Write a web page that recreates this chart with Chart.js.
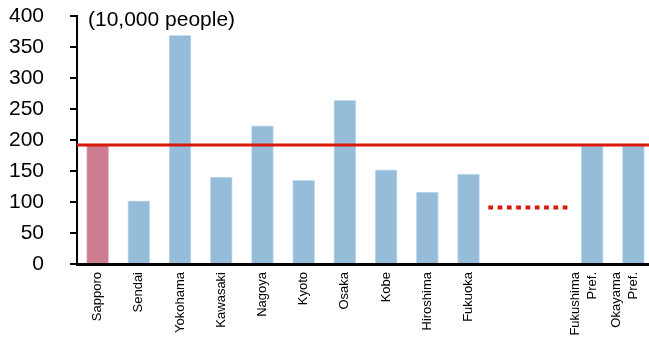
<!DOCTYPE html>
<html>
<head>
<meta charset="utf-8">
<script src="https://cdn.jsdelivr.net/npm/chart.js@4/dist/chart.umd.min.js"></script>
<style>
  html, body { margin: 0; padding: 0; background: #fff; overflow: hidden; }
  canvas { display: block; }
</style>
</head>
<body>
<canvas id="c" width="660" height="337"></canvas>
<script>
// Population by city (unit: 10,000 people); two blank slots separate the prefectures
const cities = ['Sapporo', 'Sendai', 'Yokohama', 'Kawasaki', 'Nagoya', 'Kyoto', 'Osaka',
  'Kobe', 'Hiroshima', 'Fukuoka', '', '', ['Fukushima', 'Pref.'], ['Okayama', 'Pref.']];
const population = [192, 102, 369, 140, 223, 135, 264, 152, 116, 145, null, null, 191, 191];
const highlightIndex = 0;            // Sapporo
const sapporoLevel = 192;            // solid red reference line
const breakLevel = 91;               // dotted red line in the gap
const breakSpan = [9.48, 11.43];     // category-index range of the dotted line
const yTicks = [0, 50, 100, 150, 200, 250, 300, 350, 400];
const unitLabel = '(10,000 people)';

const BLUE = '#95BCD9', BLUE_EDGE = '#C6DCED';
const PINK = '#CD7D8F', PINK_EDGE = '#E3B3BF';
const RED = '#D7180B';
const FONT = '"Liberation Sans", Arial, sans-serif';

const barFill = population.map((v, i) => i === highlightIndex ? PINK : BLUE);
const barEdge = population.map((v, i) => i === highlightIndex ? PINK_EDGE : BLUE_EDGE);
const lastIndex = cities.length - 1;

// Unit caption in the upper-left corner of the plot
const unitText = {
  id: 'unitText',
  afterDraw(chart) {
    const { ctx, chartArea } = chart;
    ctx.save();
    ctx.fillStyle = '#000';
    ctx.font = '21px ' + FONT;
    ctx.textBaseline = 'middle';
    ctx.textAlign = 'left';
    ctx.fillText(unitLabel, chartArea.left + 11, chartArea.top + 4);
    ctx.restore();
  }
};

// Center two-line rotated category labels on their tick
const centerMultiline = {
  id: 'centerMultiline',
  beforeDraw(chart) {
    const scale = chart.scales.x;
    if (!scale || typeof scale.getLabelItems !== 'function') return;
    const items = scale.getLabelItems();
    items.forEach(item => {
      if (Array.isArray(item.label) && item.label.length > 1) {
        const lh = item.font.lineHeight;
        item.textOffset = -(item.label.length - 1) * lh / 2;
      }
    });
  }
};

new Chart(document.getElementById('c'), {
  data: {
    labels: cities,
    datasets: [
      {
        type: 'line',
        xAxisID: 'x2',
        data: [{ x: -0.5, y: sapporoLevel }, { x: lastIndex + 0.5, y: sapporoLevel }],
        borderColor: RED,
        borderWidth: 3,
        pointRadius: 0,
        order: 0
      },
      {
        type: 'line',
        xAxisID: 'x2',
        data: [{ x: breakSpan[0], y: breakLevel }, { x: breakSpan[1], y: breakLevel }],
        borderColor: RED,
        borderWidth: 4,
        borderDash: [4.7, 4.6],
        borderCapStyle: 'butt',
        pointRadius: 0,
        order: 0
      },
      {
        type: 'bar',
        xAxisID: 'x',
        data: population,
        backgroundColor: barFill,
        borderColor: barEdge,
        borderWidth: { left: 1, right: 1, top: 1, bottom: 0 },
        barThickness: 22,
        grouped: false,
        order: 1
      }
    ]
  },
  options: {
    responsive: false,
    animation: false,
    layout: { padding: { top: 16, right: 6, left: 0, bottom: 0 } },
    plugins: { legend: { display: false }, tooltip: { enabled: false } },
    scales: {
      x: {
        type: 'category',
        offset: true,
        grid: { display: false, drawTicks: false },
        border: { display: true, color: '#000', width: 3 },
        ticks: {
          color: '#000',
          font: { family: FONT, size: 13, lineHeight: 1.3 },
          minRotation: 90,
          maxRotation: 90,
          autoSkip: false,
          padding: 8
        },
        afterFit(scale) {
          scale.height = 73;
          scale.paddingLeft = 0;
          scale.paddingRight = 0;
        }
      },
      x2: {
        type: 'linear',
        display: false,
        min: -0.5,
        max: lastIndex + 0.5
      },
      y: {
        min: 0,
        max: 400,
        afterBuildTicks(scale) { scale.ticks = yTicks.map(v => ({ value: v })); },
        grid: { drawOnChartArea: false, drawTicks: true, tickLength: 7, color: '#000', lineWidth: 2 },
        border: { display: true, color: '#000', width: 2 },
        ticks: {
          color: '#000',
          font: { family: FONT, size: 21 },
          padding: 26,
          autoSkip: false
        },
        afterFit(scale) {
          scale.width = 77;
          scale.paddingTop = 0;
          scale.paddingBottom = 0;
        }
      }
    }
  },
  plugins: [unitText, centerMultiline]
});
</script>
</body>
</html>
